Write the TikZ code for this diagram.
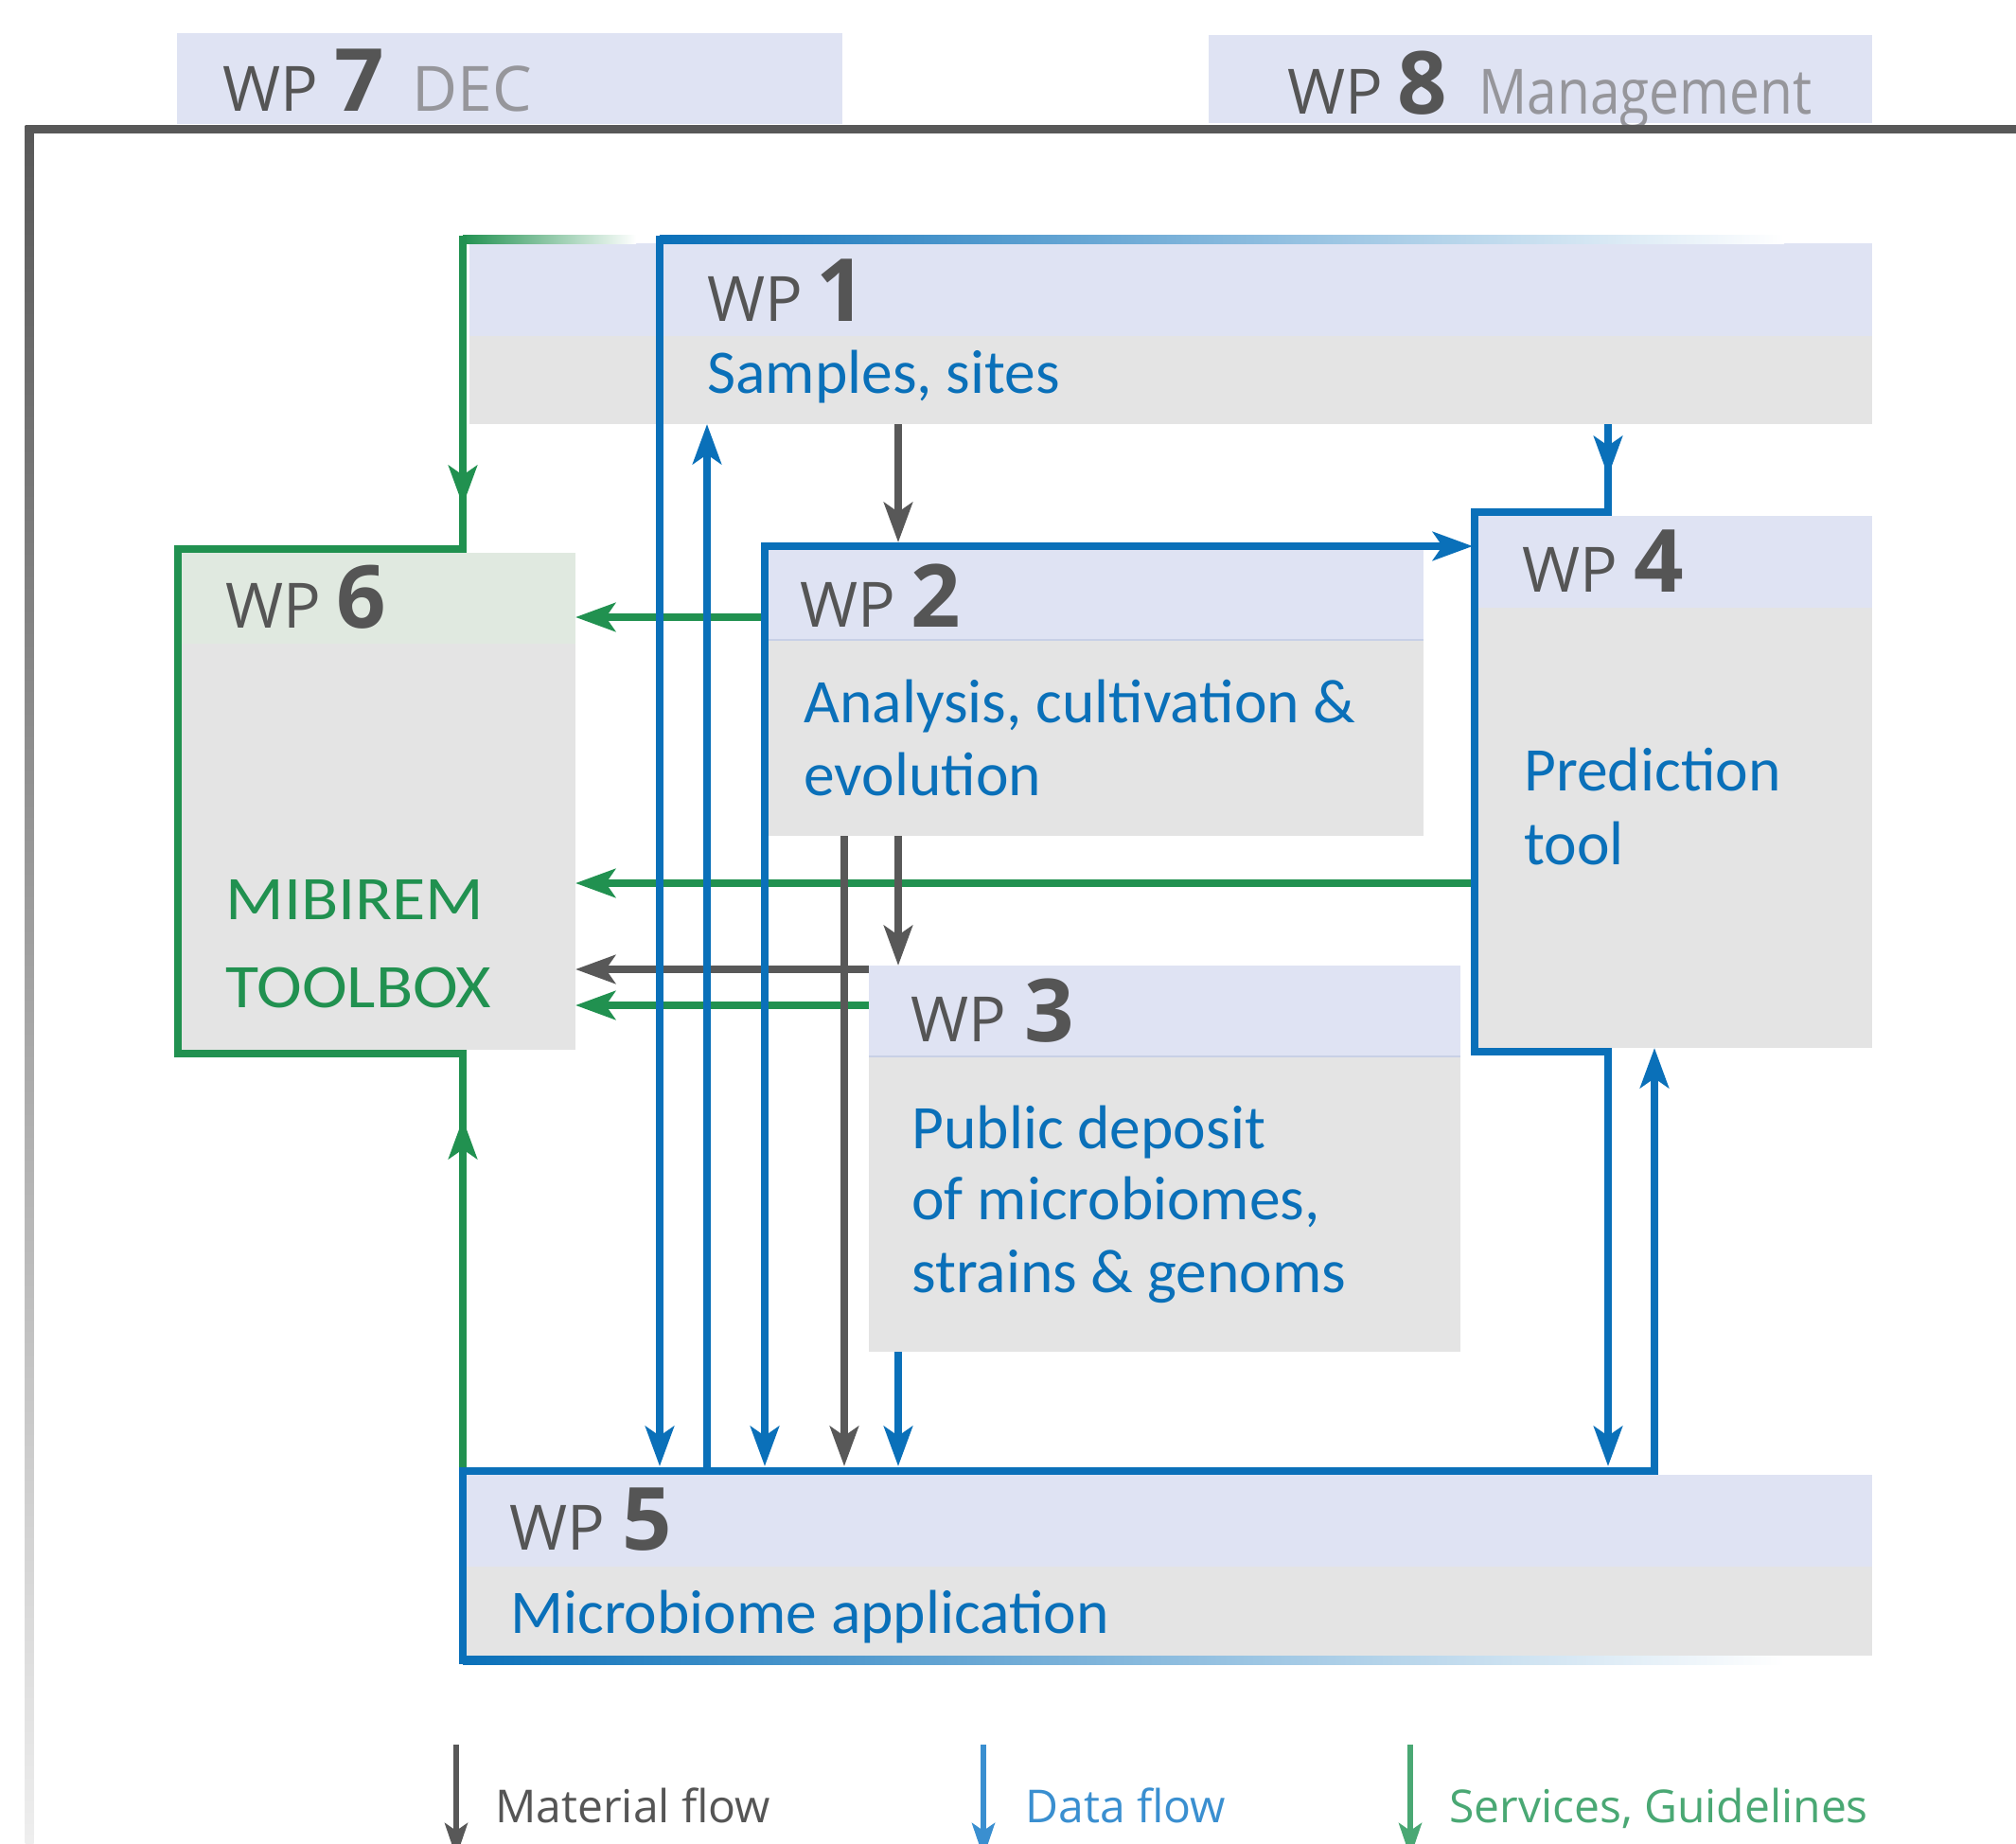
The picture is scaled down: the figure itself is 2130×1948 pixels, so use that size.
\documentclass[tikz,border=0pt]{standalone}
\usepackage{fontspec}
\setmainfont{Carlito}
\newfontfamily\wpf{Open Sans}
\newfontfamily\wpnarrow{Open Sans}[FakeStretch=0.86]
\newfontfamily\wide{Carlito}[FakeStretch=1.1]
\usetikzlibrary{arrows.meta}
\definecolor{wpblue}{RGB}{10,112,185}
\definecolor{wpgreen}{RGB}{33,145,80}
\definecolor{wpgray}{RGB}{88,88,88}
\definecolor{lav}{RGB}{223,227,243}
\definecolor{lgray}{RGB}{228,228,228}
\definecolor{lgreen}{RGB}{224,233,224}
\definecolor{legblue}{RGB}{58,143,208}
\definecolor{leggreen}{RGB}{74,168,116}
\definecolor{txtgray}{RGB}{85,85,85}
\definecolor{dimgray}{RGB}{150,150,155}
\definecolor{sepline}{RGB}{200,208,230}
\tikzset{
  flow/.style={line width=4.25pt},
  blueflow/.style={flow,draw=wpblue},
  greenflow/.style={flow,draw=wpgreen},
  grayflow/.style={flow,draw=wpgray},
  flowtip/.style={-{Stealth[length=21pt,width=15pt,inset=5pt]}},
  legtip/.style={-{Stealth[length=18pt,width=12pt,inset=4pt]}},
  wpbody/.style={fill=lgray,draw=none,inner sep=0pt,outer sep=0pt,anchor=north west},
  wphead/.style={fill=lav,draw=none,inner sep=0pt,outer sep=0pt,anchor=north west},
  wplab/.style={anchor=base west,inner sep=0pt,text=txtgray,font=\wpf\fontsize{33}{33}\selectfont},
  wpnum/.style={anchor=base west,inner sep=0pt,text=txtgray,font=\wpf\bfseries\fontsize{46}{46}\selectfont},
  wpextra/.style={anchor=base west,inner sep=0pt,text=dimgray,font=\wpf\fontsize{33}{33}\selectfont},
  desc/.style={anchor=base west,inner sep=0pt,text=wpblue,font=\fontsize{32.75}{38}\selectfont},
  legtext/.style={anchor=base west,inner sep=0pt,font=\wpf\fontsize{24}{24}\selectfont},
  fadeblue/.style={left color=wpblue,middle color=wpblue!88!white,right color=white},
  fadegreen/.style={left color=wpgreen,middle color=wpgreen!70!white,right color=white},
}
\begin{document}
\begin{tikzpicture}[x=0.5pt,y=-0.5pt]
\useasboundingbox (0,0) rectangle (2130,1948);
\clip (0,0) rectangle (2130,1948);
\fill[white] (0,0) rectangle (2130,1948);

% ---------- top WP7 / WP8 ----------
\node[wphead,minimum width=351.5pt,minimum height=48pt] (wp7) at (187,35) {};
\node[wphead,minimum width=350.5pt,minimum height=46.5pt] (wp8) at (1277,37) {};
\node[wplab] (t7a) at (235,118) {WP};
\node[wpnum] (t7b) at (353,118) {7};
\node[wpextra] (t7c) at (435,118) {DEC};
\node[wplab] (t8a) at (1360,120) {WP};
\node[wpnum] (t8b) at (1476,120) {8};
\node[wpextra,font=\wpnarrow\fontsize{33}{33}\selectfont] (t8c) at (1562,120) {Management};

% ---------- outer frame ----------
\draw[line width=4.5pt,draw=wpgray] (26.5,137) -- (2130,137);
\shade[top color=wpgray,middle color=wpgray,bottom color=wpgray!10] (26.5,132.5) rectangle (35.5,1948);

% ---------- boxes ----------
\node[wpbody,minimum width=741pt,minimum height=95.5pt] (wp1) at (496,257) {};
\node[wphead,minimum width=741pt,minimum height=49pt] (wp1h) at (496,257) {};

\node[wpbody,minimum width=346pt,minimum height=151pt] (wp2) at (812,581) {};
\node[wphead,minimum width=346pt,minimum height=47.5pt] (wp2h) at (812,581) {};
\draw[sepline,line width=0.8pt] (wp2h.south west) -- (wp2h.south east);

\node[wpbody,minimum width=312.5pt,minimum height=204pt] (wp3) at (918,1020) {};
\node[wphead,minimum width=312.5pt,minimum height=48pt] (wp3h) at (918,1020) {};
\draw[sepline,line width=0.8pt] (wp3h.south west) -- (wp3h.south east);

\node[wpbody,minimum width=208pt,minimum height=281pt] (wp4) at (1562,545) {};
\node[wphead,minimum width=208pt,minimum height=48.5pt] (wp4h) at (1562,545) {};

\node[wpbody,minimum width=743pt,minimum height=95.5pt] (wp5) at (492,1558) {};
\node[wphead,minimum width=743pt,minimum height=48.5pt] (wp5h) at (492,1558) {};

\node[wpbody,minimum width=208pt,minimum height=262.5pt] (wp6) at (192,584) {};
\node[wphead,fill=lgreen,minimum width=208pt,minimum height=48pt] (wp6h) at (192,584) {};

% ---------- named coordinates ----------
\coordinate (cA) at (697,0);   % WP1 data frame
\coordinate (cB) at (747,0);   % WP5 -> WP1
\coordinate (cC) at (808,0);   % WP2 data frame
\coordinate (cD) at (892,0);   % WP2 -> WP5 material
\coordinate (cE) at (949,0);   % WP1->WP2->WP3->WP5
\coordinate (cF) at (1699,0);  % WP4 frame
\coordinate (cG) at (1748,0);  % WP5 -> WP4
\coordinate (cH) at (489,0);   % WP6 / WP5 left frame
\coordinate (rT) at (0,253);   % top frame row
\coordinate (rW2) at (0,577);  % WP2 frame top
\coordinate (rW5) at (0,1554); % WP5 frame top
\coordinate (rIn) at (0,1549); % arrow tips into WP5

% ---------- horizontal connectors (under the vertical ones) ----------
\draw[greenflow,flowtip] (808,652) -- (wp6.east |- 0,652);
\draw[greenflow,flowtip] (1558,933) -- (wp6.east |- 0,933);
\draw[grayflow,flowtip] (wp3.west |- 0,1024) -- (wp6.east |- 0,1024);
\draw[greenflow,flowtip] (wp3.west |- 0,1062) -- (wp6.east |- 0,1062);

% ---------- WP6 services frame (green) ----------
\shade[fadegreen] (489,248.75) rectangle (672,257.25);
\draw[greenflow,line join=miter] (493.25,253) -- (489,253) -- (489,580) -- (188,580) -- (188,1113) -- (489,1113) -- (489,1556);
\draw[greenflow,flowtip] (489,470) -- (489,534);
\draw[greenflow,flowtip] (489,1260) -- (489,1182);

% ---------- WP1 data frame (blue) ----------
\shade[fadeblue] (697,248.75) rectangle (1885,257.25);
\draw[blueflow,flowtip,line join=miter] (701.25,253) -- (cA |- rT) -- (cA |- rIn);

% ---------- WP2 data frame ----------
\draw[blueflow,{Stealth[length=21pt,width=15pt,inset=5pt]}-{Stealth[length=21pt,width=15pt,inset=5pt]},line join=miter]
  (1556,577) -- (cC |- rW2) -- (cC |- rIn);

% ---------- WP4 data frame ----------
\draw[blueflow,flowtip,line join=miter] (cF |- wp1.south) -- (1699,541) -- (1558,541) -- (1558,1111) -- (1699,1111) -- (cF |- rIn);
\draw[blueflow,flowtip] (cF |- wp1.south) -- (1699,503);

% ---------- WP5 frame ----------
\shade[fadeblue] (489,1749.75) rectangle (1885,1758.25);
\draw[blueflow,flowtip,line join=miter] (493.25,1754) -- (489,1754) -- (cH |- rW5) -- (cG |- rW5) -- (cG |- wp4.south);

% ---------- vertical connectors ----------
\draw[blueflow,flowtip] (cB |- rW5) -- (cB |- wp1.south);
\draw[grayflow,flowtip] (cE |- wp1.south) -- (949,573);
\draw[grayflow,flowtip] (cD |- wp2.south) -- (cD |- rIn);
\draw[grayflow,flowtip] (cE |- wp2.south) -- (cE |- wp3.north);
\draw[blueflow,flowtip] (cE |- wp3.south) -- (cE |- rIn);

% ---------- texts ----------
\node[wplab] (t1a) at (747,339) {WP};
\node[wpnum] (t1b) at (862,339) {1};
\node[desc] (t1c) at (747,415) {Samples, sites};

\node[wplab] (t2a) at (845,662) {WP};
\node[wpnum] (t2b) at (962,662) {2};
\node[desc] (t2c) at (849,763) {Analysis, cultivation \&};
\node[desc] (t2d) at (849,840) {evolution};

\node[wplab] (t4a) at (1608,625) {WP};
\node[wpnum] (t4b) at (1726,625) {4};
\node[desc] (t4c) at (1610,835) {Prediction};
\node[desc] (t4d) at (1610,913) {tool};

\node[wplab] (t6a) at (238,663) {WP};
\node[wpnum] (t6b) at (355,663) {6};
\node[desc,text=wpgreen,font=\wide\fontsize{32.75}{38}\selectfont] (t6c) at (238,971) {MIBIREM};
\node[desc,text=wpgreen,font=\wide\fontsize{32.75}{38}\selectfont] (t6d) at (238,1064) {TOOLBOX};

\node[wplab] (t3a) at (962,1100) {WP};
\node[wpnum] (t3b) at (1082,1100) {3};
\node[desc] (t3c) at (963,1213) {Public deposit};
\node[desc] (t3d) at (963,1288) {of microbiomes,};
\node[desc] (t3e) at (963,1365) {strains \& genoms};

\node[wplab] (t5a) at (538,1637) {WP};
\node[wpnum] (t5b) at (657,1637) {5};
\node[desc] (t5c) at (539,1725) {Microbiome application};

% ---------- legend ----------
\coordinate (l1) at (482,1843);
\coordinate (l2) at (1039,1843);
\coordinate (l3) at (1490,1843);
\draw[line width=3pt,draw=wpgray,legtip] (l1) -- (482,1962);
\draw[line width=3pt,draw=legblue,legtip] (l2) -- (1039,1962);
\draw[line width=3pt,draw=leggreen,legtip] (l3) -- (1490,1962);
\node[legtext,text=txtgray] (lt1) at (523,1925) {Material flow};
\node[legtext,text=legblue] (lt2) at (1083,1925) {Data flow};
\node[legtext,text=leggreen] (lt3) at (1531,1925) {Services, Guidelines};
\end{tikzpicture}
\end{document}
